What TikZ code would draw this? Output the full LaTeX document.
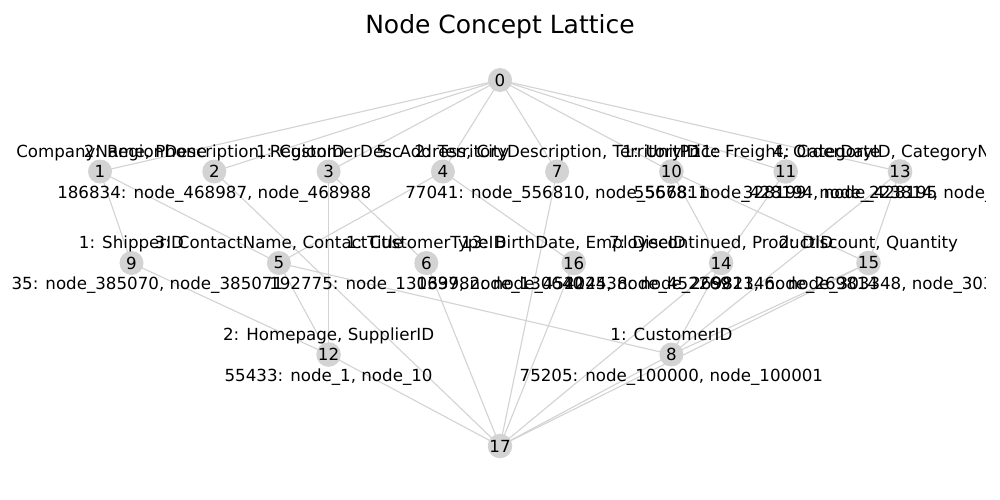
\documentclass[tikz,border=0pt]{standalone}
\usepackage{fontspec}
\setmainfont{DejaVu Sans}
\usetikzlibrary{backgrounds}
\definecolor{nodegray}{HTML}{D3D3D3}
\definecolor{edgegray}{HTML}{D3D3D3}
\pgfdeclarelayer{paper}
\pgfdeclarelayer{edgelayer}
\pgfsetlayers{paper,edgelayer,main}
\begin{document}
\begin{tikzpicture}[x=1pt,y=-1pt,
  vtx/.style={circle,fill=nodegray,minimum size=24pt,inner sep=0pt,font=\fontsize{16.67}{18}\selectfont},
  lbl/.style={anchor=base,inner sep=0pt,font=\fontsize{16.67}{18}\selectfont},
  edge/.style={draw=edgegray,line width=1.1pt},
  ttl/.style={anchor=base,inner sep=0pt,font=\fontsize{25}{28}\selectfont}]
\begin{pgfonlayer}{paper}
\fill[white] (0,0) rectangle (1000,500);
\end{pgfonlayer}
\useasboundingbox (0,0) rectangle (1000,500);
\node[ttl] (title) at (500,34) {Node Concept Lattice};
% vertices
\node[vtx] (n0) at (500,80) {0};
\node[vtx] (n1) at (100,171.5) {1};
\node[vtx] (n2) at (214.3,171.5) {2};
\node[vtx] (n3) at (328.6,171.5) {3};
\node[vtx] (n4) at (442.9,171.5) {4};
\node[vtx] (n7) at (557.1,171.5) {7};
\node[vtx] (n10) at (671.4,171.5) {10};
\node[vtx] (n11) at (785.7,171.5) {11};
\node[vtx] (n13) at (900,171.5) {13};
\node[vtx] (n9) at (131.5,263) {9};
\node[vtx] (n5) at (278.9,263) {5};
\node[vtx] (n6) at (426.3,263) {6};
\node[vtx] (n16) at (573.7,263) {16};
\node[vtx] (n14) at (721.1,263) {14};
\node[vtx] (n15) at (868.5,263) {15};
\node[vtx] (n12) at (328.6,354.5) {12};
\node[vtx] (n8) at (671.4,354.5) {8};
\node[vtx] (n17) at (500,446) {17};
% edges
\begin{pgfonlayer}{edgelayer}
\foreach \a/\b in {n0/n1,n0/n2,n0/n3,n0/n4,n0/n7,n0/n10,n0/n11,n0/n13,
  n1/n9,n1/n5,n2/n17,n3/n12,n3/n6,n4/n5,n4/n16,n7/n17,n10/n14,n10/n15,
  n11/n14,n13/n8,n13/n15,n9/n12,n5/n12,n5/n8,n6/n17,n16/n17,n14/n17,
  n14/n8,n15/n17,n15/n8,n12/n17,n8/n17}
  \draw[edge] (\a.center) -- (\b.center);
\end{pgfonlayer}
% labels
\begin{scope}
\clip (12.5,0) rectangle (985,500);
\node[lbl] (u1) at (100,157) {2: CompanyName, Phone};
\node[lbl] (u2) at (214.3,157) {2: RegionDescription, RegionID};
\node[lbl] (u3) at (328.6,157) {1: CustomerDesc};
\node[lbl] (u4) at (442.9,157) {5: Address, City};
\node[lbl] (u7) at (557.1,157) {2: TerritoryDescription, TerritoryID};
\node[lbl] (u10) at (671.4,157) {1: UnitPrice};
\node[lbl] (u11) at (785.7,157) {11: Freight, OrderDate};
\node[lbl] (u13) at (900,157) {4: CategoryID, CategoryName};
\node[lbl] (d2) at (214.3,198) {186834: node\_468987, node\_468988};
\node[lbl] (d7) at (557.1,198) {77041: node\_556810, node\_556811};
\node[lbl] (d11) at (785.7,198) {55678: node\_428194, node\_428195};
\node[lbl] (d13) at (900,198) {328199: node\_223814, node\_223815};
\node[lbl] (u9) at (131.5,248.5) {1: ShipperID};
\node[lbl] (u5) at (278.9,248.5) {3: ContactName, ContactTitle};
\node[lbl] (u6) at (426.3,248.5) {1: CustomerTypeID};
\node[lbl] (u16) at (573.7,248.5) {13: BirthDate, EmployeeID};
\node[lbl] (u14) at (721.1,248.5) {7: Discontinued, ProductID};
\node[lbl] (u15) at (868.5,248.5) {2: Discount, Quantity};
\node[lbl] (d9) at (131.5,289.5) {24135: node\_385070, node\_385071};
\node[lbl] (d6) at (426.3,289.5) {192775: node\_130639, node\_130640};
\node[lbl] (d16) at (573.7,289.5) {139782: node\_452245, node\_452269};
\node[lbl] (d14) at (721.1,289.5) {402438: node\_269813, node\_269814};
\node[lbl] (d15) at (868.5,289.5) {982146: node\_303348, node\_303349};
\node[lbl] (u12) at (328.6,340) {2: Homepage, SupplierID};
\node[lbl] (u8) at (671.4,340) {1: CustomerID};
\node[lbl] (d12) at (328.6,381) {55433: node\_1, node\_10};
\node[lbl] (d8) at (671.4,381) {75205: node\_100000, node\_100001};
\end{scope}
\end{tikzpicture}
\end{document}
